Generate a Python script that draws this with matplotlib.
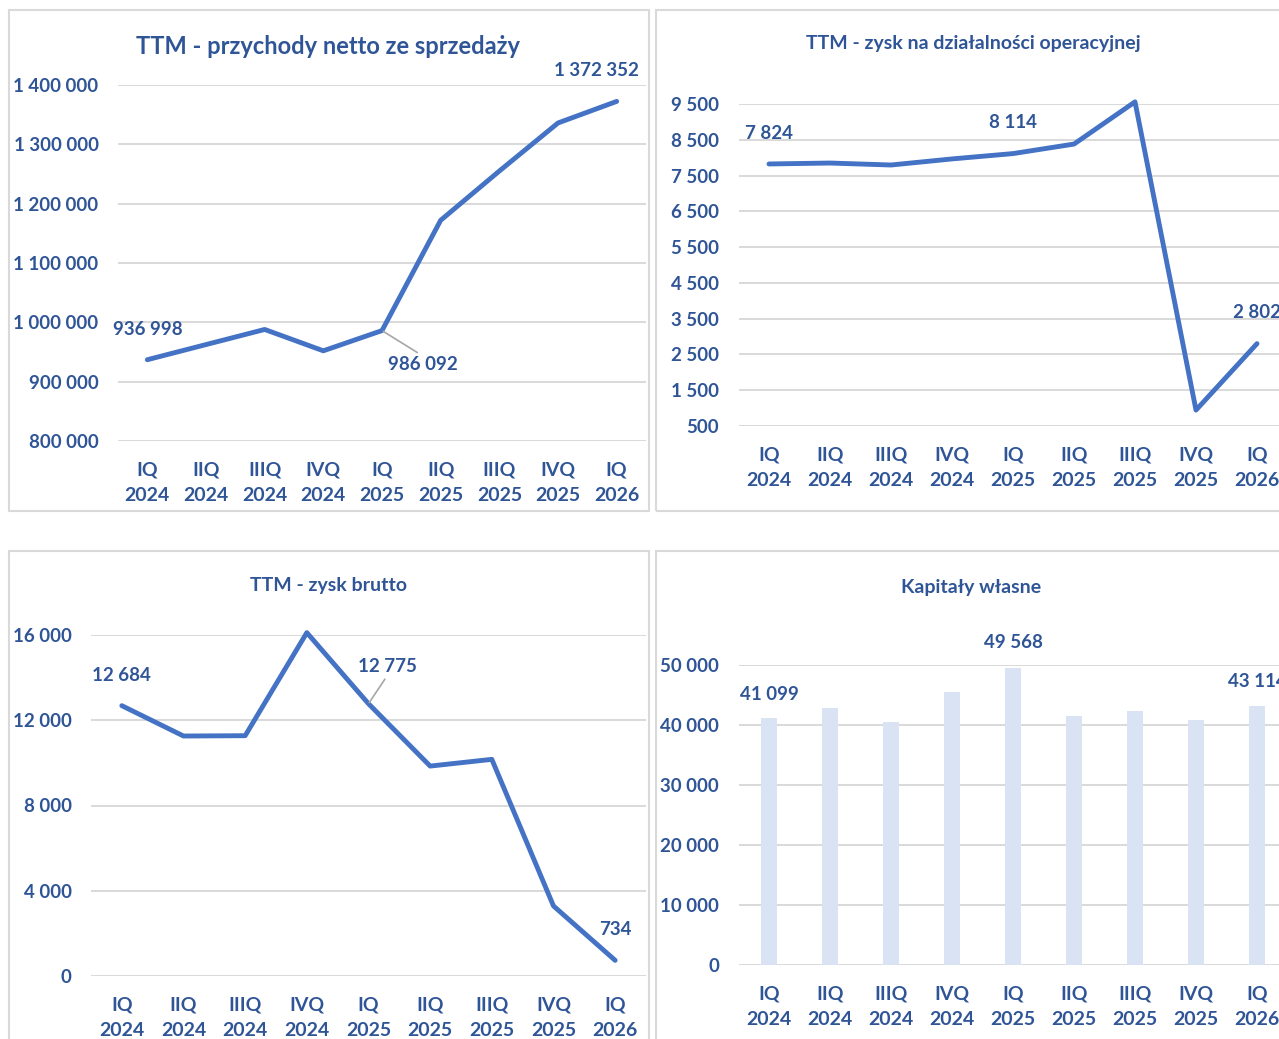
import numpy as np
import matplotlib
matplotlib.use('Agg')
import matplotlib.pyplot as plt
from matplotlib.patches import Rectangle

plt.rcParams['font.family'] = ['Lato', 'DejaVu Sans']

# DATA
quarters = ['IQ\n2024', 'IIQ\n2024', 'IIIQ\n2024', 'IVQ\n2024', 'IQ\n2025',
            'IIQ\n2025', 'IIIQ\n2025', 'IVQ\n2025', 'IQ\n2026']
przychody = [936998, 962500, 988000, 952000, 986092, 1172000, 1255000, 1336000, 1372352]
zysk_oper = [7824, 7850, 7795, 7965, 8114, 8380, 9560, 945, 2802]
zysk_brutto = [12684, 11260, 11275, 16110, 12775, 9850, 10165, 3285, 734]
kapitaly = [41099, 42840, 40560, 45500, 49568, 41560, 42280, 40900, 43114]

TXT = '#2F5597'
LINE = '#4472C4'
BAR = '#DAE3F3'
GRID = '#D9D9D9'
FRAME = '#D9D9D9'

W, H = 1279, 1039
fig = plt.figure(figsize=(W / 100, H / 100), dpi=100)


def px_axes(left, top, right, bottom):
    return fig.add_axes([left / W, 1 - bottom / H, (right - left) / W, (bottom - top) / H])


def frame(left, top, right, bottom):
    fig.patches.append(Rectangle((left / W, 1 - bottom / H), (right - left) / W, (bottom - top) / H,
                                 transform=fig.transFigure, fill=False, edgecolor=FRAME, lw=1.5))


def fmt(v):
    return f'{v:,}'.replace(',', ' ')


def style(ax, ticks, ylim):
    ax.set_xlim(-0.5, len(quarters) - 0.5)
    ax.set_ylim(*ylim)
    ax.set_yticks(ticks)
    ax.set_yticklabels([fmt(t) for t in ticks])
    ax.set_xticks(range(len(quarters)))
    ax.set_xticklabels(quarters, linespacing=1.62)
    for s in ax.spines.values():
        s.set_visible(False)
    ax.tick_params(length=0, colors=TXT)
    ax.tick_params(axis='x', labelsize=14, pad=14.5)
    ax.tick_params(axis='y', labelsize=13.5, pad=14)
    for lab in ax.get_xticklabels() + ax.get_yticklabels():
        lab.set_fontweight('bold')
    ax.grid(axis='y', color=GRID, lw=1.4)
    ax.set_axisbelow(True)
    ax.patch.set_alpha(0)


def label(ax, i, v, dx, dy, weight='bold', leader=None):
    kw = {}
    if leader is not None:
        kw['arrowprops'] = dict(arrowstyle='-', color='#A6A6A6', lw=1.2, shrinkA=1, shrinkB=1,
                                relpos=leader)
    ax.annotate(fmt(v), xy=(i, v), xytext=(dx, dy), textcoords='offset pixels',
                ha='center', va='center', color=TXT, fontsize=13.5, fontweight=weight,
                annotation_clip=False, **kw)


x = np.arange(len(quarters))

# frames
frame(9, 10, 649, 511)
frame(656, 10, 1300, 511)
frame(9, 551, 649, 1060)
frame(656, 551, 1300, 1060)

# 1. przychody
ax1 = px_axes(118, 85, 646, 441)
ax1.plot(x, przychody, color=LINE, lw=3.5, solid_capstyle='round', solid_joinstyle='round')
style(ax1, [800000, 900000, 1000000, 1100000, 1200000, 1300000, 1400000], (800000, 1400000))
label(ax1, 0, przychody[0], 0, 30)
label(ax1, 4, przychody[4], 41, -34, leader=(0.5, 1))
label(ax1, 8, przychody[8], -20, 31)
fig.text(328 / W, 1 - 46 / H, 'TTM - przychody netto ze sprzedaży', ha='center', va='center',
         color=TXT, fontsize=17, fontweight='bold')

# 2. zysk operacyjny
ax2 = px_axes(738.5, 104, 1287.5, 426)
ax2.plot(x, zysk_oper, color=LINE, lw=3.5, solid_capstyle='round', solid_joinstyle='round',
         clip_on=False)
style(ax2, list(range(500, 10000, 1000)), (500, 9500))
label(ax2, 0, zysk_oper[0], 0, 30)
label(ax2, 4, zysk_oper[4], 0, 31)
label(ax2, 8, zysk_oper[8], 0, 31)
fig.text(973 / W, 1 - 43 / H, 'TTM - zysk na działalności operacyjnej', ha='center', va='center',
         color=TXT, fontsize=14, fontweight='bold')

# 3. zysk brutto
ax3 = px_axes(91, 635, 646, 976)
ax3.plot(x, zysk_brutto, color=LINE, lw=3.5, solid_capstyle='round', solid_joinstyle='round',
         clip_on=False)
style(ax3, [0, 4000, 8000, 12000, 16000], (0, 16000))
label(ax3, 0, zysk_brutto[0], 0, 30)
label(ax3, 4, zysk_brutto[4], 19, 37, leader=(0.5, 0))
label(ax3, 8, zysk_brutto[8], 0, 31)
fig.text(328 / W, 1 - 585 / H, 'TTM - zysk brutto', ha='center', va='center',
         color=TXT, fontsize=14, fontweight='bold')

# 4. kapitały własne
ax4 = px_axes(738.5, 665, 1287.5, 965)
ax4.bar(x, kapitaly, width=0.27, color=BAR)
style(ax4, [0, 10000, 20000, 30000, 40000, 50000], (0, 50000))
label(ax4, 0, kapitaly[0], 0, 24)
label(ax4, 4, kapitaly[4], 0, 25)
label(ax4, 8, kapitaly[8], 0, 25)
fig.text(971 / W, 1 - 587 / H, 'Kapitały własne', ha='center', va='center',
         color=TXT, fontsize=14, fontweight='bold')

fig.savefig('out.png', dpi=100)
